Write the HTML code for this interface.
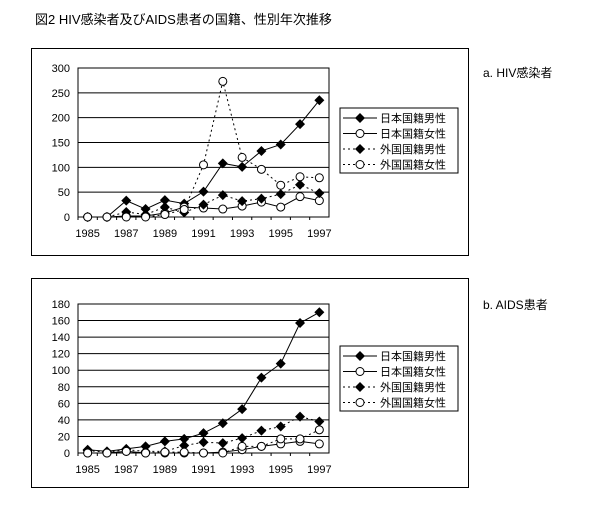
<!DOCTYPE html>
<html><head><meta charset="utf-8"><style>
body{margin:0;background:#fff;width:604px;height:515px;overflow:hidden}
svg{font-family:"Liberation Sans","Noto Sans CJK JP",sans-serif}
</style></head><body>
<svg id="s" width="604" height="515">
<text x="35" y="24" font-size="13">図2  HIV感染者及びAIDS患者の国籍、性別年次推移</text>
<text x="483" y="77" font-size="12">a.  HIV感染者</text>
<text x="483" y="309" font-size="12">b.  AIDS患者</text>
</svg>
<script>
const years=[1985,1986,1987,1988,1989,1990,1991,1992,1993,1994,1995,1996,1997];
const seriesNames=["日本国籍男性","日本国籍女性","外国国籍男性","外国国籍女性"];
const hivJpMale=[0,0,33,16,34,27,51,108,101,133,146,187,235];
const hivJpFemale=[0,0,2,2,8,20,18,16,22,30,20,41,33];
const hivFgMale=[0,0,10,5,20,9,25,44,32,37,46,65,48];
const hivFgFemale=[0,0,0,0,5,15,105,273,120,96,64,81,79];
const hivTicks=[0,50,100,150,200,250,300];
const aidsJpMale=[4,2,5,8,14,17,24,36,53,91,108,157,170];
const aidsJpFemale=[0,0,2,0,0,0,0,1,4,8,11,14,11];
const aidsFgMale=[3,1,4,2,2,9,13,12,18,27,32,44,38];
const aidsFgFemale=[0,0,2,0,1,1,0,0,8,8,17,17,28];
const aidsTicks=[0,20,40,60,80,100,120,140,160,180];
const NS="http://www.w3.org/2000/svg";
const svg=document.getElementById('s');
function mk(t,a,p){const e=document.createElementNS(NS,t);for(const k in a)e.setAttribute(k,a[k]);(p||svg).appendChild(e);return e;}
function chart(id,box,plot,ticks,series,legend){
  const g=mk('g',{});
  
  
  const b=mk('rect',{x:box[0],y:box[1],width:box[2],height:box[3],fill:'none',stroke:'#000','stroke-width':1},g);
  
  
  const [px,py,pw,ph]=plot;const max=ticks[ticks.length-1];
  const Y=v=>py+ph-v/max*ph;
  const step=pw/years.length;const X=i=>px+step*(i+0.5);
  ticks.forEach(t=>{
    const l=mk('line',{x1:px,x2:px+pw,y1:Y(t),y2:Y(t),stroke:'#000','stroke-width':1},g);
    
    
    const tx=mk('text',{x:px-8,y:Y(t)+4,'font-size':11,'text-anchor':'end'},g);tx.textContent=t;
    
    
  });
  const fr=mk('rect',{x:px,y:py,width:pw,height:ph,fill:'none',stroke:'#000'},g);
  
  
  years.forEach((y,i)=>{
    const tk=mk('line',{x1:px+step*i,x2:px+step*i,y1:py+ph,y2:py+ph+3,stroke:'#000'},g);
    
    
    if(i%2==0){const t=mk('text',{x:X(i),y:py+ph+20,'font-size':11,'text-anchor':'middle'},g);t.textContent=y;
      
      }
  });
  function marker(x,y,filled,p){
    if(filled) return mk('path',{d:`M${x} ${y-5}L${x+5} ${y}L${x} ${y+5}L${x-5} ${y}Z`,fill:'#000'},p);
    return mk('circle',{cx:x,cy:y,r:4,fill:'#fff',stroke:'#000'},p);
  }
  series.forEach((s,si)=>{
    const filled=si%2==0,dash=si>=2?'2,3':null;
    const pts=s.map((v,i)=>X(i)+','+Y(v)).join(' ');
    const a={points:pts,fill:'none',stroke:'#000','stroke-width':1};if(dash)a['stroke-dasharray']=dash;
    const pl=mk('polyline',a,g);
    
    
    s.forEach((v,i)=>{const m=marker(X(i),Y(v),filled,g);
      
      });
  });
  const [lx,ly]=legend;
  const lb=mk('rect',{x:lx,y:ly,width:118,height:65,fill:'#fff',stroke:'#000'},g);
  
  
  seriesNames.forEach((n,si)=>{
    const yy=ly+10+si*15.5;const a={x1:lx+3,x2:lx+37,y1:yy,y2:yy,stroke:'#000'};if(si>=2)a['stroke-dasharray']='2,3';
    const l=mk('line',a,g);
    
    
    marker(lx+20,yy,si%2==0,g);
    const t=mk('text',{x:lx+40,y:yy+4,'font-size':11},g);t.textContent=n;
    
    
  });
}
chart('hiv-chart',[31.5,48.5,437,207],[78,68,251,149],hivTicks,[hivJpMale,hivJpFemale,hivFgMale,hivFgFemale],[340,108]);
chart('aids-chart',[31.5,278.5,437,209],[78,304,251,149],aidsTicks,[aidsJpMale,aidsJpFemale,aidsFgMale,aidsFgFemale],[340,346]);
</script>
</body></html>
